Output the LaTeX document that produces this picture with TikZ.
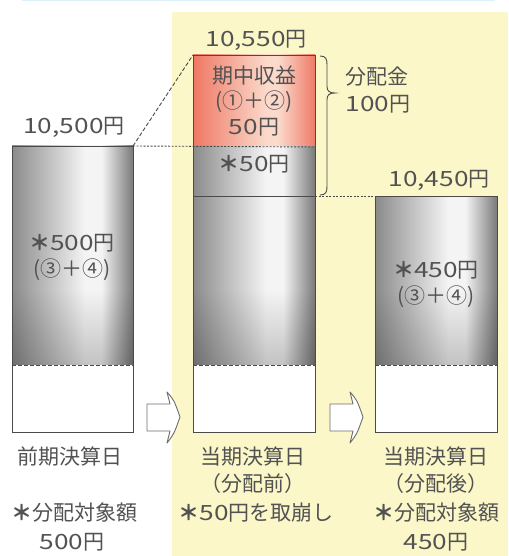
\documentclass[tikz,border=0pt]{standalone}
\usepackage{fontspec}
\setmainfont{Noto Sans CJK JP}
\newfontfamily\numf[FakeStretch=1.25]{Noto Sans CJK JP}
\usetikzlibrary{fadings}
\definecolor{txt}{HTML}{525252}
\definecolor{ybg}{HTML}{FBF7C8}
\definecolor{bluel}{HTML}{DDEFF9}
\definecolor{edge}{HTML}{4A4A4A}
\definecolor{ga}{HTML}{8A8A8A}
\definecolor{gb}{HTML}{A4A4A4}
\definecolor{gc}{HTML}{F4F4F4}
\definecolor{gd}{HTML}{7A7A7A}
\definecolor{oa}{HTML}{EE7864}
\definecolor{ob}{HTML}{FBD9CB}
\definecolor{oc}{HTML}{EF7A68}
\pgfdeclarehorizontalshading{graybar}{100bp}{color(0bp)=(ga); color(25bp)=(ga); color(32bp)=(gb); color(55bp)=(gc); color(62bp)=(gc); color(75bp)=(gd); color(100bp)=(gd)}
\pgfdeclarehorizontalshading{orangebar}{100bp}{color(0bp)=(oa); color(25bp)=(oa); color(55bp)=(ob); color(60bp)=(ob); color(75bp)=(oc); color(100bp)=(oc)}
\tikzfading[name=darkdown, top color=transparent!100, bottom color=transparent!0]
\tikzset{
  lbl/.style={text=txt, font=\fontsize{21}{21}\selectfont, inner sep=0pt, anchor=center},
  baredge/.style={draw=edge, line width=0.8pt},
  dashsep/.style={draw=edge, line width=0.9pt, dash pattern=on 4pt off 2pt},
  dotsep/.style={draw=edge, line width=0.9pt, dash pattern=on 2pt off 1.5pt},
  bracepath/.style={draw=edge, line width=0.9pt},
  hollow/.style={draw=edge!80, line width=0.9pt, fill=white, line join=round}
}
\newcommand{\nm}[1]{{\numf #1}}
\newcommand{\astr}{{\bfseries ＊}}
\begin{document}
\begin{tikzpicture}[x=1pt,y=-1pt]
\useasboundingbox (0,0) rectangle (508,556);
\fill[white] (0,0) rectangle (508,556);
% background
\fill[ybg] (172,12) rectangle (508,556);
\draw[bluel, line width=1pt] (22,0.8) -- (495,0.8);

% coordinates
\coordinate (Ltl) at (12,146); \coordinate (Ltr) at (133,146);
\coordinate (Mtl) at (193,55); \coordinate (Mtr) at (315,55);
\coordinate (Mol) at (193,147); \coordinate (Mor) at (315,147);
\coordinate (Mgl) at (193,196); \coordinate (Mgr) at (315,196);
\coordinate (Rtl) at (375,196); \coordinate (Rtr) at (497,196);

% left bar
\shade[shading=graybar] (12,146) rectangle (133,365);
\fill[black, opacity=0.2, path fading=darkdown] (12,290) rectangle (133,365);
\fill[white] (12,365) rectangle (133,432);
\draw[dashsep] (12,365) -- (133,365);
\draw[baredge] (12,146) rectangle (133,432);

% middle bar
\shade[shading=orangebar] (193,55) rectangle (315,147);
\shade[shading=graybar] (193,147) rectangle (315,365);
\fill[black, opacity=0.2, path fading=darkdown] (193,290) rectangle (315,365);
\fill[white] (193,365) rectangle (315,432);
\draw[dashsep] (193,365) -- (315,365);
\draw[baredge] (Mgl) -- (Mgr);
\draw[baredge] (193,55) rectangle (315,432);

% right bar
\shade[shading=graybar] (375,196) rectangle (497,365);
\fill[black, opacity=0.2, path fading=darkdown] (375,290) rectangle (497,365);
\fill[white] (375,365) rectangle (497,432);
\draw[dashsep] (375,365) -- (497,365);
\draw[baredge] (375,196) rectangle (497,432);

% connectors
\draw[dashsep] (Ltr) -- (Mtl);
\draw[dotsep] (Ltr) -- (Mor);
\draw[dotsep] (Mgr) -- (Rtl);

% brace
\draw[bracepath] (320,56) .. controls (326,56) and (327,59) .. (327,65) -- (327,86) .. controls (327,91) and (329,93) .. (335,93) .. controls (329,93) and (327,95) .. (327,100) -- (327,186) .. controls (327,192) and (326,195) .. (320,195);

% hollow arrows
\draw[hollow] (147,404) -- (170,404) -- (167,392) .. controls (174,400) .. (180,417) .. controls (174,434) .. (167,443) -- (170,431) -- (147,431) -- cycle;
\draw[hollow] (330,404) -- (353,404) -- (350,392) .. controls (357,400) .. (363,417) .. controls (357,434) .. (350,443) -- (353,431) -- (330,431) -- cycle;

% labels
\node[lbl] (v1) at (74,127) {\nm{10,500}円};
\node[lbl] (v2) at (256,40) {\nm{10,550}円};
\node[lbl] (v3) at (439,180) {\nm{10,450}円};

\node[lbl] (l1) at (72,243) {\astr\nm{500}円};
\node[lbl] (l2) at (72,270) {(③＋④)};

\node[lbl] (m1) at (254,76) {期中収益};
\node[lbl] (m2) at (254,102) {(①＋②)};
\node[lbl] (m3) at (254,127) {\nm{50}円};
\node[lbl] (m4) at (254,164) {\astr\nm{50}円};

\node[lbl] (b1) at (377,77) {分配金};
\node[lbl] (b2) at (378,104) {\nm{100}円};

\node[lbl] (r1) at (436,270) {\astr\nm{450}円};
\node[lbl] (r2) at (436,297) {(③＋④)};

\node[lbl] (d1) at (70,457) {前期決算日};
\node[lbl] (d2) at (74,513) {\astr 分配対象額};
\node[lbl] (d3) at (72,542) {\nm{500}円};

\node[lbl] (e1) at (253,457) {当期決算日};
\node[lbl] (e2) at (253,484) {（分配前）};
\node[lbl] (e3) at (256,513) {\astr\nm{50}円を取崩し};

\node[lbl] (f1) at (436,457) {当期決算日};
\node[lbl] (f2) at (436,484) {（分配後）};
\node[lbl] (f3) at (436,513) {\astr 分配対象額};
\node[lbl] (f4) at (436,542) {\nm{450}円};
\end{tikzpicture}
\end{document}
